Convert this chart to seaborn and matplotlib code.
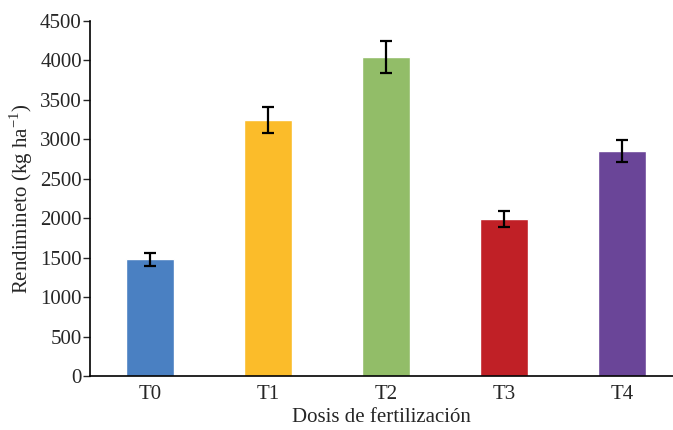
import pandas as pd
import matplotlib.pyplot as plt
import seaborn as sns

# Data
treatments = ["T0", "T1", "T2", "T3", "T4"]
yields = [1480, 3240, 4040, 1990, 2850]
errors = [80, 165, 200, 105, 145]
colors = ["#4a80c2", "#fbbc2a", "#92bd68", "#c02026", "#6a4598"]

df = pd.DataFrame({"trat": treatments, "rend": yields, "err": errors})

sns.set_style("white")
plt.rcParams["font.family"] = ["Liberation Serif", "DejaVu Serif"]
plt.rcParams["mathtext.fontset"] = "custom"
plt.rcParams["mathtext.rm"] = "Liberation Serif"

fig = plt.figure(figsize=(6.73, 4.30), dpi=100)
ax = fig.add_axes([0.134, 0.125, 0.866, 0.827])

sns.barplot(data=df, x="trat", y="rend", hue="trat", palette=colors,
            width=0.405, legend=False, errorbar=None, saturation=1, ax=ax)
ax.errorbar(range(len(treatments)), df["rend"], yerr=df["err"], fmt="none",
            ecolor="black", elinewidth=1.6, capsize=4, capthick=1.6)

ax.set_ylim(0, 4500)
ax.set_xlim(-0.51, 4.43)
ax.set_yticks(range(0, 4501, 500))
ax.set_xlabel("Dosis de fertilización", fontsize=15, labelpad=3)
ax.set_ylabel("Rendimineto (kg ha$^{\\mathregular{-1}}$)", fontsize=15, labelpad=4)
ax.tick_params(axis="y", which="major", left=True, length=5, width=1, labelsize=15, pad=1)
ax.tick_params(axis="x", bottom=False, labelsize=15, pad=3)

sns.despine(ax=ax, top=True, right=True)
for s in ["left", "bottom"]:
    ax.spines[s].set_color("black")
    ax.spines[s].set_linewidth(1.2)

fig.savefig("out.png", dpi=100)
